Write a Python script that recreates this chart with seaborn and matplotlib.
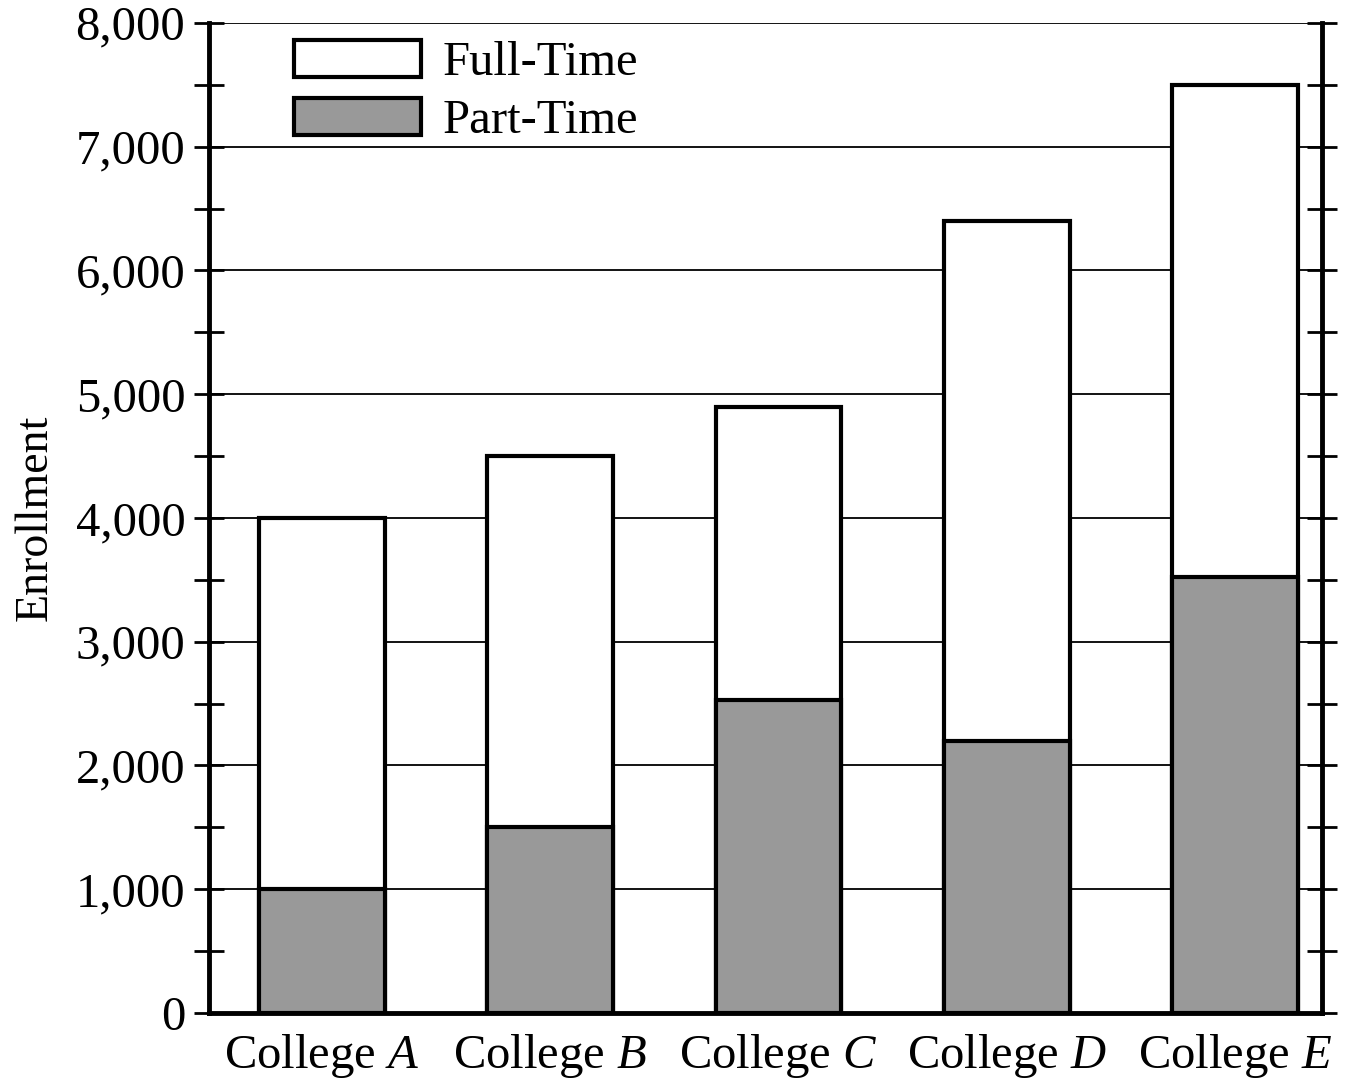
import pandas as pd
import seaborn as sns
import matplotlib.pyplot as plt
from matplotlib.patches import Patch
from matplotlib.ticker import MultipleLocator, FuncFormatter

# enrollment
colleges = ["A", "B", "C", "D", "E"]
total_enrollment = [4000, 4500, 4900, 6400, 7500]
part_time = [1000, 1500, 2530, 2200, 3520]

df = pd.DataFrame({"college": colleges, "total": total_enrollment, "part": part_time})

sns.set_style("white")
plt.rcParams["font.family"] = ["Liberation Serif", "DejaVu Serif"]
plt.rcParams["mathtext.fontset"] = "custom"
plt.rcParams["mathtext.rm"] = "Liberation Serif"
plt.rcParams["mathtext.it"] = "Liberation Serif:italic"
plt.rcParams["text.color"] = "black"
plt.rcParams["axes.labelcolor"] = "black"
plt.rcParams["xtick.color"] = "black"
plt.rcParams["ytick.color"] = "black"

fig = plt.figure(figsize=(13.48, 10.78), dpi=100)
ax = fig.add_axes([0.155, 0.0603, 0.8257, 0.9184])

edge = dict(edgecolor="black", linewidth=3)
# full bar = full-time on top of part-time
sns.barplot(data=df, x="college", y="total", color="white", width=0.55,
            saturation=1, ax=ax, zorder=3, **edge)
sns.barplot(data=df, x="college", y="part", color="#999999", width=0.55,
            saturation=1, ax=ax, zorder=4, **edge)

ax.set_xlim(-0.495, 4.38)
ax.set_ylim(0, 8000)
ax.yaxis.set_major_locator(MultipleLocator(1000))
ax.yaxis.set_minor_locator(MultipleLocator(500))
ax.yaxis.set_major_formatter(FuncFormatter(lambda v, p: f"{int(v):,}"))
ax.grid(axis="y", which="major", color="black", linewidth=1.3, zorder=0)
ax.set_axisbelow(True)

ax.set_xticks(range(len(colleges)))
ax.set_xticklabels([f"College $\\mathit{{{c}}}$" for c in colleges])
ax.set_xlabel("")
ax.set_ylabel("Enrollment", fontsize=33, labelpad=14)

ax.tick_params(axis="x", length=0, labelsize=35, pad=14)
ax.tick_params(axis="y", which="both", direction="inout", left=True, right=True,
               length=22, width=2, labelsize=35, pad=6)

for side in ["left", "bottom", "right"]:
    ax.spines[side].set_linewidth(3.5)
    ax.spines[side].set_color("black")
    ax.spines[side].set_zorder(6)
ax.spines["top"].set_visible(False)

handles = [Patch(facecolor="white", edgecolor="black", linewidth=3, label="Full-Time"),
           Patch(facecolor="#999999", edgecolor="black", linewidth=3, label="Part-Time")]
leg = ax.legend(handles=handles, loc="upper left", bbox_to_anchor=(0.046, 1.017),
                frameon=False, fontsize=35, handlelength=2.6, handleheight=0.78,
                handletextpad=0.45, labelspacing=0.26, borderpad=0.2)
leg.set_zorder(7)

plt.savefig("out.png", dpi=100)
